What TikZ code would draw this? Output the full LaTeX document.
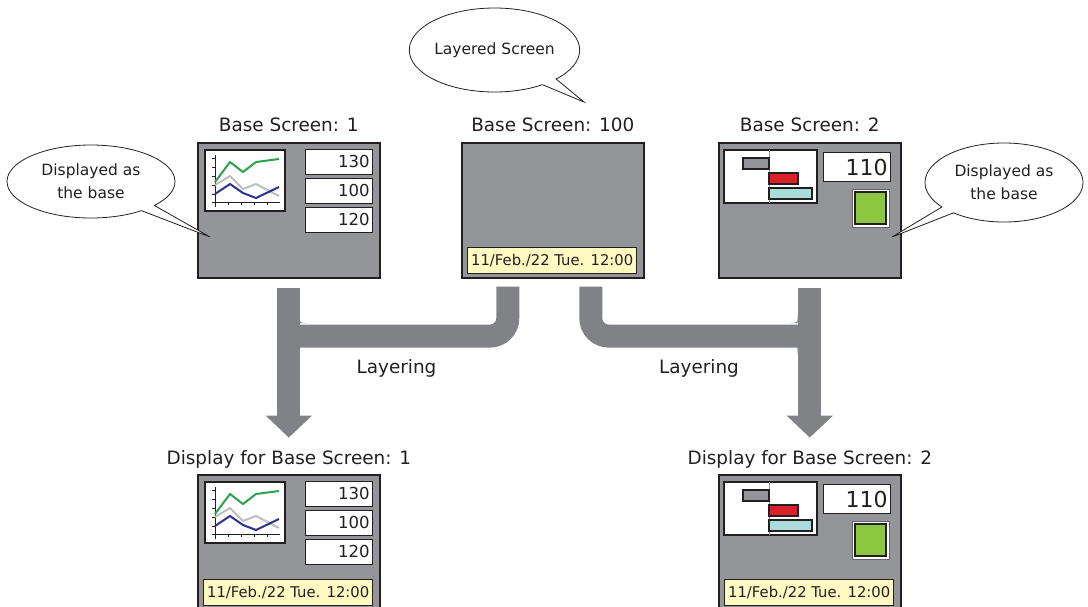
\documentclass[tikz,border=0pt]{standalone}
\usepackage{fontspec}
\setmainfont{DejaVu Sans}
\usetikzlibrary{arrows.meta,shapes.callouts}
\definecolor{inkdark}{HTML}{231F20}
\definecolor{scrgray}{HTML}{939598}
\definecolor{bandgray}{HTML}{808285}
\definecolor{dateyellow}{HTML}{FFF9C2}
\definecolor{linegreen}{HTML}{2BA24C}
\definecolor{linegray}{HTML}{BCBEC0}
\definecolor{linenavy}{HTML}{2E3192}
\definecolor{barred}{HTML}{DA2128}
\definecolor{barcyan}{HTML}{A9DBD9}
\definecolor{lampgreen}{HTML}{8DC63F}
\begin{document}
\begin{tikzpicture}[x=1pt, y=-1pt,
  screen/.style={draw=inkdark, line width=1.6pt, fill=scrgray, anchor=north west,
    minimum width=182pt, minimum height=135pt, inner sep=0pt},
  title/.style={font=\fontsize{18.4}{22}\selectfont, text=inkdark, anchor=base, inner sep=0pt},
  band/.style={draw=bandgray, line width=23pt},
  bubble/.style={ellipse callout, draw=inkdark, line width=0.8pt, fill=white, align=center,
    inner sep=0pt, callout pointer arc=12, font=\fontsize{15.5}{23}\selectfont, text=inkdark},
  panel/.style={draw=inkdark, line width=1.4pt, fill=white},
  numbox/.style={panel, anchor=north west, inner sep=0pt, minimum width=67pt, minimum height=24.5pt,
    text width=61pt, align=right, font=\fontsize{16.5}{18}\selectfont, text=inkdark},
  datebox/.style={draw=inkdark, line width=1.4pt, fill=dateyellow, anchor=north west, inner sep=0pt,
    minimum width=169pt, minimum height=26pt, font=\fontsize{14.8}{18}\selectfont, text=inkdark},
  axis/.style={draw=inkdark, line width=0.6pt},
  trend/.style={line width=2pt, line join=round}]
\clip (0,0) rectangle (1088,606);

% screens
\node[screen] (scrA) at (197,142) {};
\node[screen] (scrC) at (461,142) {};
\node[screen] (scrB) at (718,142) {};
\node[screen] (dispA) at (197,474) {};
\node[screen] (dispB) at (718,474) {};

\node[title] (tA) at ([yshift=11pt]scrA.north) {Base Screen: 1};
\node[title] (tC) at ([yshift=11pt]scrC.north) {Base Screen: 100};
\node[title] (tB) at ([yshift=11pt]scrB.north) {Base Screen: 2};
\node[title] (tDA) at ([yshift=10pt]dispA.north) {Display for Base Screen: 1};
\node[title] (tDB) at ([yshift=10pt]dispB.north) {Display for Base Screen: 2};

% trend graph and values
\foreach \oy in {142,474} {
  \begin{scope}[shift={(197,\oy)}]
    \draw[panel] (8,8) rectangle (88,69);
    \draw[axis] (18,13) -- (18,65);
    \draw[axis] (15,60) -- (83,60);
    \foreach \t in {16,25,34,43,52} \draw[axis] (15,\t) -- (18,\t);
    \foreach \t in {31,44,57,70} \draw[axis] (\t,60) -- (\t,63);
    \draw[trend, draw=linegray] (18,43) -- (33,34) -- (46,47) -- (59,42) -- (82,54);
    \draw[trend, draw=linenavy] (18,52) -- (33,42) -- (46,51) -- (59,56) -- (82,45);
    \draw[trend, draw=linegreen] (18,40) -- (33,20) -- (46,30) -- (59,20) -- (82,17);
    \node[numbox] (vA-\oy) at (108,7) {130};
    \node[numbox] (vB-\oy) at (108,36) {100};
    \node[numbox] (vC-\oy) at (108,65) {120};
  \end{scope}
}

% bar chart, value and lamp
\foreach \oy in {142,474} {
  \begin{scope}[shift={(718,\oy)}]
    \draw[draw=inkdark, line width=1.2pt, fill=white] (6,8) rectangle (99,61);
    \draw[draw=scrgray, line width=0.8pt] (51,8) -- (51,61);
    \draw[panel, fill=scrgray] (25,16) rectangle (51,27);
    \draw[panel, fill=barred] (51,31) rectangle (80,42);
    \draw[panel, fill=barcyan] (51,46) rectangle (94,57);
    \node[numbox, minimum height=29pt, font=\fontsize{22}{24}\selectfont] (vD-\oy) at (105,10) {110};
    \draw[draw=inkdark!70, line width=0.6pt, fill=white] (134,47) rectangle (171,85);
    \draw[panel, line width=1.2pt, fill=lampgreen] (137,50) rectangle (168,82);
  \end{scope}
}

% date displays
\node[datebox] (dateC) at ([shift={(6,105)}]scrC.north west) {11/Feb./22 Tue. 12:00};
\node[datebox] (dateA) at ([shift={(6,105)}]dispA.north west) {11/Feb./22 Tue. 12:00};
\node[datebox] (dateB) at ([shift={(6,105)}]dispB.north west) {11/Feb./22 Tue. 12:00};

% layering
\draw[band, rounded corners=18pt, shorten <=8pt] ([xshift=-45pt]scrC.south) |- ([yshift=-57.5pt]scrA.south);
\draw[band, -{Triangle[width=45pt,length=22pt]}, shorten <=9pt] (scrA.south) -- ++(0,159);
\draw[band, rounded corners=18pt, shorten <=8pt] ([xshift=38pt]scrC.south) |- ([yshift=-57.5pt]scrB.south);
\draw[band, -{Triangle[width=45pt,length=22pt]}, shorten <=9pt] (scrB.south) -- ++(0,159);
\fill[bandgray] (299.5,315) .. controls (299.5,323) .. (307.5,323) -- (299.5,323) -- cycle;
\fill[bandgray] (299.5,354) .. controls (299.5,346) .. (307.5,346) -- (299.5,346) -- cycle;
\fill[bandgray] (797.5,315) .. controls (797.5,323) .. (789.5,323) -- (797.5,323) -- cycle;
\fill[bandgray] (797.5,354) .. controls (797.5,346) .. (789.5,346) -- (797.5,346) -- cycle;
\node[title] (layA) at (396.5,373) {Layering};
\node[title] (layB) at (699,373) {Layering};

% notes
\node[bubble, minimum width=165pt, minimum height=84pt, callout absolute pointer={(584,102)}] (noteC) at (494.5,50) {Layered Screen};
\node[bubble, minimum width=168pt, minimum height=73pt, callout absolute pointer={(210,237)}] (noteA) at (91,181.5) {Displayed as\\the base};
\node[bubble, minimum width=158pt, minimum height=79pt, callout absolute pointer={(892,237)}] (noteB) at (1004,182.5) {Displayed as\\the base};
\end{tikzpicture}
\end{document}
